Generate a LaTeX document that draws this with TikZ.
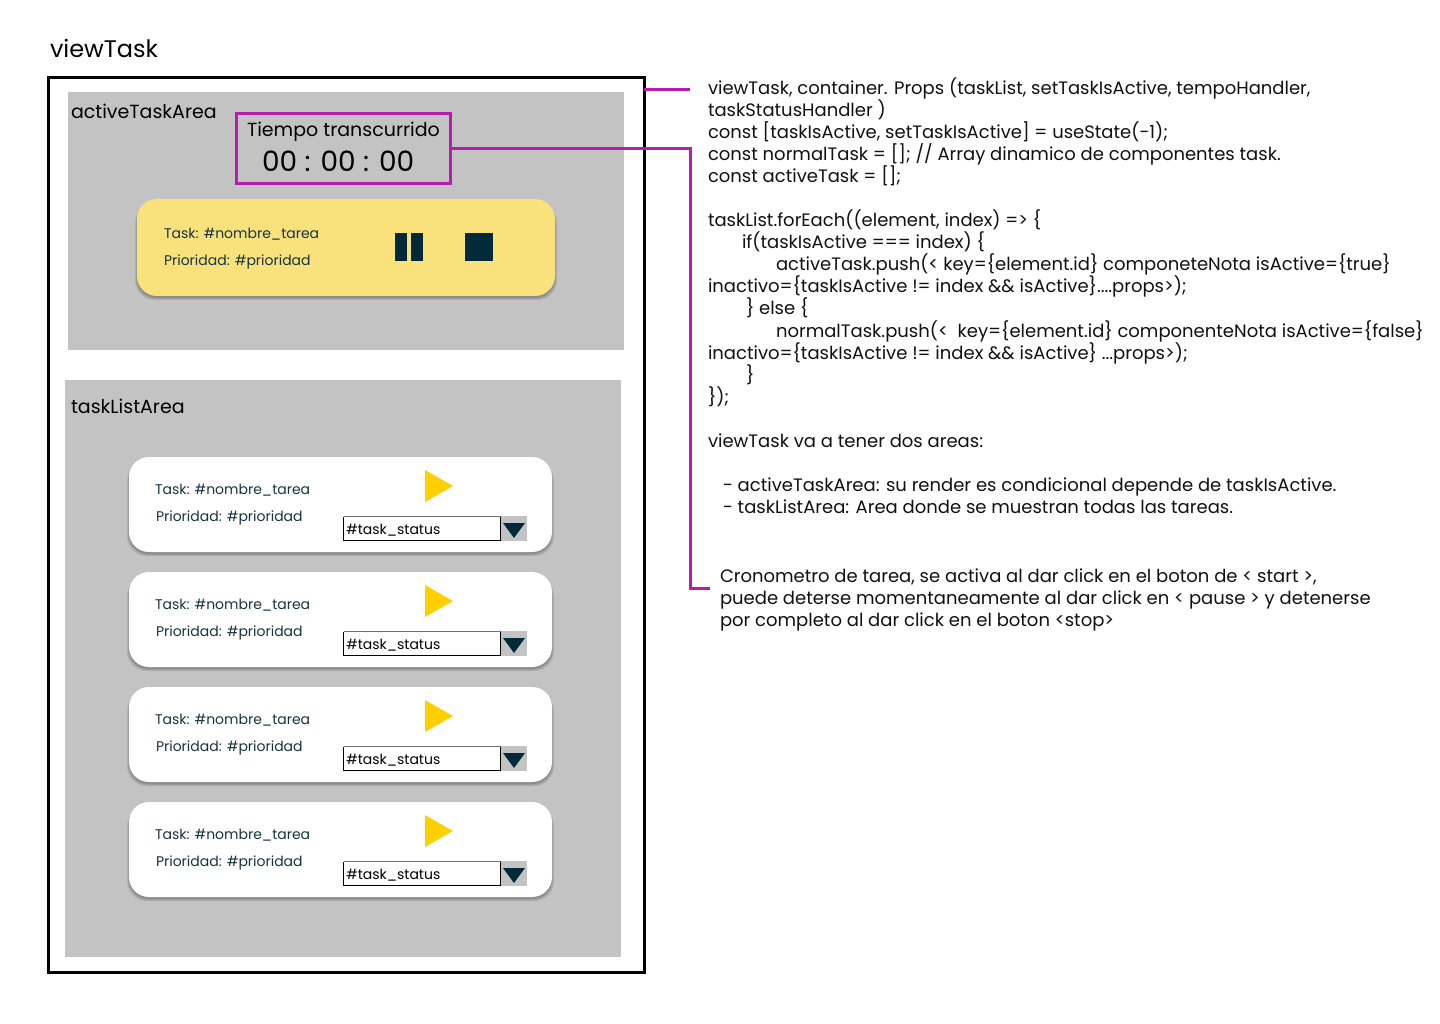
\documentclass[tikz,border=0pt]{standalone}
\usepackage{fontspec}
\setmainfont{Poppins}
\tikzset{
  x=1pt,y=-1pt,
  every node/.style={inner sep=0pt,outer sep=0pt},
  area/.style={fill=areagrey,draw=none,anchor=north west},
  lbl/.style={anchor=base west,text=black,font=\fontsize{19}{22}\selectfont},
  codeline/.style={anchor=base west,text=codeblack,font=\fontsize{18}{22}\selectfont},
  smalltxt/.style={anchor=base west,text=inkdark,font=\fontsize{14}{16}\selectfont},
  cardbox/.style={rounded corners=20pt,minimum width=423pt,minimum height=95pt,anchor=north west},
  marker/.style={draw=mag,line width=3pt},
  icon/.style={fill=inkblue,draw=none},
  shade1/.style={fill=black,opacity=.10,rounded corners=20pt},
}
\definecolor{areagrey}{HTML}{C3C3C3}
\definecolor{mag}{HTML}{B51DAE}
\definecolor{inkblue}{HTML}{00293A}
\definecolor{inkdark}{HTML}{17343F}
\definecolor{codeblack}{HTML}{111111}
\definecolor{cardyellow}{HTML}{F9E27C}
\definecolor{playyellow}{HTML}{FFD000}
\newcommand{\cl}[3]{\node[codeline] at (#1,#2) {#3};}
\begin{document}
\begin{tikzpicture}
\useasboundingbox[fill=white] (0,0) rectangle (1440,1024);
\node[anchor=base west,font=\fontsize{24}{28}\selectfont] (title) at (50,58) {viewTask};
\node[draw=black,line width=3pt,minimum width=596pt,minimum height=894pt,anchor=north west] (frame) at (48,78) {};
\node[area,minimum width=556pt,minimum height=258pt] (activearea) at (68,92) {};
\node[area,minimum width=556pt,minimum height=577pt] (listarea) at (65,380) {};
\node[lbl] (activelbl) at (71,119) {activeTaskArea};
\node[lbl] (listlbl) at (71,413) {taskListArea};
\node[marker,minimum width=214pt,minimum height=70pt,anchor=north west] (timebox) at (236,114) {};
\node[lbl] (timelbl) at (247,137) {Tiempo transcurrido};
\node[anchor=base west,font=\fontsize{28}{32}\selectfont] (clock) at (262,172) {00 : 00 : 00};
% active card
\foreach \g in {1,2,3}{\fill[shade1] (137-\g+1,199+4) rectangle (555+\g-1,296+\g+1);}
\node[cardbox,fill=cardyellow,minimum width=418pt,minimum height=97pt] (activecard) at (137,199) {};
\node[smalltxt] (activetask) at (164,239) {Task: \#nombre\_tarea};
\node[smalltxt] (activeprio) at (164,266) {Prioridad: \#prioridad};
\fill[icon] (395,233) rectangle (407,261);
\fill[icon] (411,233) rectangle (423,261);
\fill[icon] (465,233) rectangle (493,261);
% list cards
\foreach \i/\d in {1/0,2/115,3/230,4/345}{
  \foreach \g in {1,2,3}{\fill[shade1] (129-\g+1,457+\d+4) rectangle (552+\g-1,552+\d+\g+1);}
  \node[cardbox,fill=white] (card\i) at (129,457+\d) {};
  \node[smalltxt] (task\i) at (155,494+\d) {Task: \#nombre\_tarea};
  \node[smalltxt] (prio\i) at (156,521+\d) {Prioridad: \#prioridad};
  \fill[playyellow] (425,470+\d) -- (453,486+\d) -- (425,502+\d) -- cycle;
  \fill[areagrey] (501,516+\d) rectangle (527,541+\d);
  \fill[icon] (503,523+\d) -- (525,523+\d) -- (514,538+\d) -- cycle;
  \fill[white] (343,516+\d) rectangle (501,541+\d);
  \draw[black,line width=.8pt] (501,540.5+\d) -- (343.5,540.5+\d) -- (343.5,516.5+\d);
  \draw[black!55,line width=1pt] (343.5,516.5+\d) -- (501,516.5+\d);
  \draw[black,line width=1pt] (500.5,516.5+\d) -- (500.5,540.5+\d);
  \node[anchor=base west,font=\fontsize{14}{16}\selectfont] (status\i) at (346,534+\d) {\#task\_status};
}
% connectors
\coordinate (tickA) at (690,89.5);
\coordinate (elbowtop) at (690,149);
\coordinate (elbowbot) at (690,588);
\coordinate (tickB) at (710,588);
\draw[marker] (frame.east |- tickA) -- (tickA);
\draw[marker,line join=miter] (timebox.east |- elbowtop) -- (elbowtop) -- (elbowbot) -- (tickB);
% notes
\cl{708}{95}{viewTask, container. Props (taskList, setTaskIsActive, tempoHandler,}
\cl{708}{117}{taskStatusHandler )}
\cl{708}{139}{const [taskIsActive, setTaskIsActive] = useState(-1);}
\cl{708}{161}{const normalTask = []; // Array dinamico de componentes task.}
\cl{708}{183}{const activeTask = [];}
\cl{708}{227}{taskList.forEach((element, index) => \{}
\cl{742}{249}{if(taskIsActive === index) \{}
\cl{776}{271}{activeTask.push(< key=\{element.id\} componeteNota isActive=\{true\}}
\cl{708}{293}{inactivo=\{taskIsActive != index \&\& isActive\}....props>);}
\cl{746}{315}{\} else \{}
\cl{776}{337}{normalTask.push(<\ \ key=\{element.id\} componenteNota isActive=\{false\}}
\cl{708}{359}{inactivo=\{taskIsActive != index \&\& isActive\} ...props>);}
\cl{746}{381}{\}}
\cl{708}{403}{\});}
\cl{708}{447}{viewTask va a tener dos areas:}
\cl{723}{491}{- activeTaskArea: su render es condicional depende de taskIsActive.}
\cl{723}{513}{- taskListArea: Area donde se muestran todas las tareas.}
\cl{720}{582}{Cronometro de tarea, se activa al dar click en el boton de < start >,}
\cl{720}{604}{puede deterse momentaneamente al dar click en < pause > y detenerse}
\cl{720}{626}{por completo al dar click en el boton <stop>}
\end{tikzpicture}
\end{document}
